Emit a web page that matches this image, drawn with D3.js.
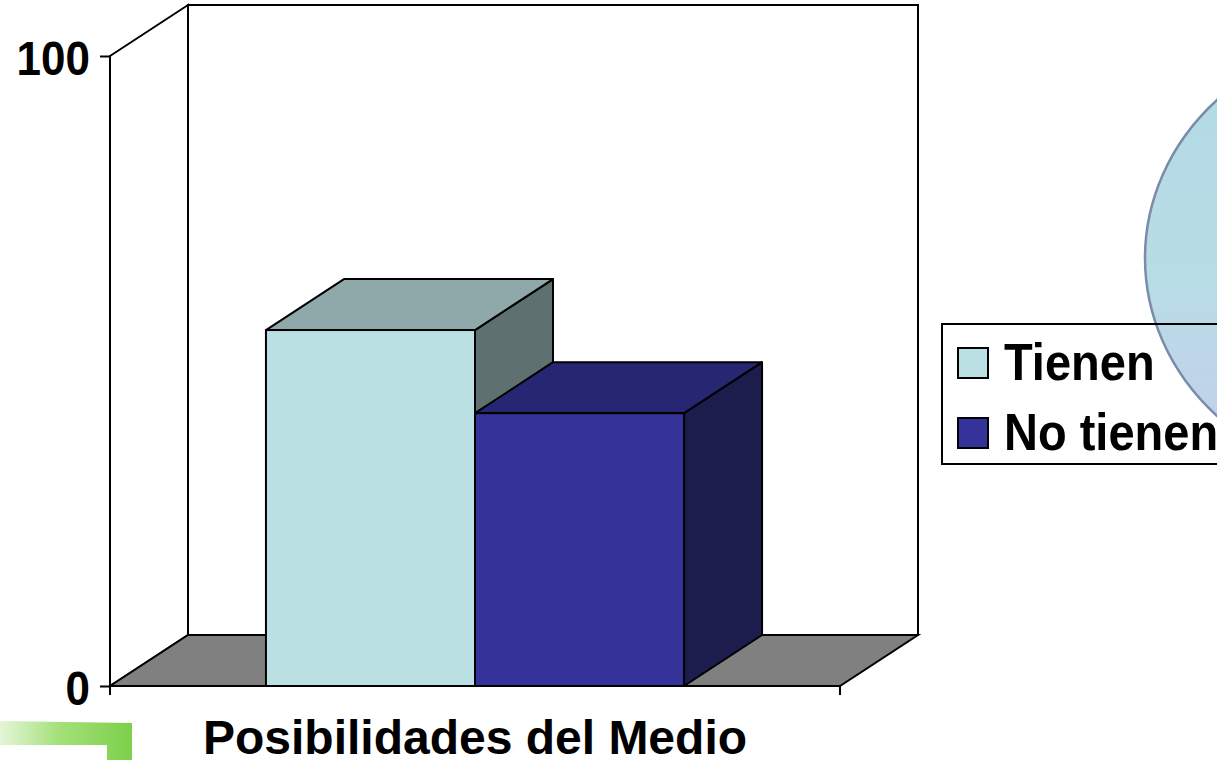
<!DOCTYPE html>
<html>
<head>
<meta charset="utf-8">
<script src="https://cdn.jsdelivr.net/npm/d3@7/dist/d3.min.js"></script>
<style>
html,body{margin:0;padding:0;background:#fff;overflow:hidden;}
svg{display:block;}
text{font-family:"Liberation Sans",Arial,sans-serif;font-weight:bold;fill:#000;}
</style>
</head>
<body>
<svg id="chart" width="1217" height="760"></svg>
<script>
// ---- data ----
const categories = ["Posibilidades del Medio"];
const seriesNames = ["Tienen", "No tienen"];
const seriesValues = [56.5, 43.3];
const yTicks = [0, 100];
const seriesFront = ["#BBE0E3", "#333399"];
const seriesTop = ["#8FA8AA", "#262673"];
const seriesSide = ["#5F7070", "#1C1C4D"];

const svg = d3.select("#chart");
const defs = svg.append("defs");

// depth offsets
const DX = 78, DY = -51;

const y = d3.scaleLinear().domain([0, 100]).range([686, 56]);
const x0 = d3.scaleBand().domain(categories).range([110, 840]).padding(0);
const x1 = d3.scaleBand().domain(seriesNames).range([0, x0.bandwidth()])
  .paddingInner(0).paddingOuter(0.746);

// ---- decorations ----
const cg = defs.append("linearGradient").attr("id","circG").attr("x1",0).attr("y1",0).attr("x2",0).attr("y2",1);
cg.append("stop").attr("offset","0%").attr("stop-color","#B2DAE5");
cg.append("stop").attr("offset","55%").attr("stop-color","#B8DCE6");
cg.append("stop").attr("offset","100%").attr("stop-color","#C6CDEA");
svg.append("ellipse").attr("cx",1395).attr("cy",258).attr("rx",250).attr("ry",225)
  .attr("fill","url(#circG)").attr("stroke","#7A8CAA").attr("stroke-width",2.5);

const gg = defs.append("linearGradient").attr("id","greenG").attr("x1",0).attr("y1",0).attr("x2",1).attr("y2",0);
gg.append("stop").attr("offset","0%").attr("stop-color","#E4F6D8");
gg.append("stop").attr("offset","45%").attr("stop-color","#A4E07A");
gg.append("stop").attr("offset","100%").attr("stop-color","#7CD048");
svg.append("path").attr("d","M0,721 L132,723 L132,760 L107,760 L107,745 L0,745 Z")
  .attr("fill","url(#greenG)");

// ---- walls and floor ----
const yTop = y(100), yBot = y(0);
const xL = x0.range()[0], xR = x0.range()[1];

svg.append("rect").attr("x", xL + DX).attr("y", yTop + DY)
  .attr("width", xR - xL).attr("height", yBot - yTop)
  .attr("fill","#fff").attr("stroke","#000").attr("stroke-width",2);

svg.append("polygon")
  .attr("points", [[xL,yTop],[xL+DX,yTop+DY],[xL+DX,yBot+DY],[xL,yBot]].map(p=>p.join(",")).join(" "))
  .attr("fill","#fff").attr("stroke","#000").attr("stroke-width",2);

svg.append("polygon")
  .attr("points", [[xL,yBot],[xR,yBot],[xR+DX,yBot+DY],[xL+DX,yBot+DY]].map(p=>p.join(",")).join(" "))
  .attr("fill","#808080").attr("stroke","#000").attr("stroke-width",2);

// ---- bars ----
const data = seriesNames.map((s,i)=>({name:s, value:seriesValues[i], i}));
const cat = categories[0];
const bars = svg.append("g");
data.forEach(d=>{
  const xa = x0(cat) + x1(d.name), xb = xa + x1.bandwidth();
  const yt = y(d.value), yb = y(0);
  const pts = a => a.map(p=>p.join(",")).join(" ");
  bars.append("polygon").attr("points", pts([[xb,yt],[xb+DX,yt+DY],[xb+DX,yb+DY],[xb,yb]]))
    .attr("fill", seriesSide[d.i]).attr("stroke","#000").attr("stroke-width",2).attr("stroke-linejoin","round");
  bars.append("polygon").attr("points", pts([[xa,yt],[xb,yt],[xb+DX,yt+DY],[xa+DX,yt+DY]]))
    .attr("fill", seriesTop[d.i]).attr("stroke","#000").attr("stroke-width",2).attr("stroke-linejoin","round");
  bars.append("rect").attr("x",xa).attr("y",yt).attr("width",xb-xa).attr("height",yb-yt)
    .attr("fill", seriesFront[d.i]).attr("stroke","#000").attr("stroke-width",2);
});

// ---- axes ----
const yAxis = d3.axisLeft(y).tickValues(yTicks).tickSize(10).tickPadding(10).tickFormat(d3.format("d"));
const gy = svg.append("g").attr("transform",`translate(${xL},0)`).call(yAxis);
gy.select(".domain").attr("stroke","#000").attr("stroke-width",2).attr("d",`M0,${yTop}V${yBot+9}`);
gy.selectAll(".tick line").attr("stroke","#000").attr("stroke-width",2);
gy.selectAll(".tick text").attr("font-size",44).attr("font-family","Liberation Sans, Arial, sans-serif")
  .attr("font-weight","bold").attr("fill","#000").attr("dy","0.36em")
  .attr("transform","translate(0,1) scale(1,1.08)");

const xAxis = d3.axisBottom(x0).tickSize(0).tickFormat(()=>"");
const gx = svg.append("g").attr("transform",`translate(0,${yBot})`).call(xAxis);
gx.select(".domain").remove();
[xL, xR].forEach(xx=>{
  gx.append("line").attr("x1",xx).attr("x2",xx).attr("y1",0).attr("y2",9).attr("stroke","#000").attr("stroke-width",2);
});
gx.append("text").attr("x", x0(cat)+x0.bandwidth()/2).attr("y", 68)
  .attr("text-anchor","middle").attr("font-size",48).text(cat);

// ---- legend ----
const lg = svg.append("g");
lg.append("rect").attr("x",942).attr("y",324).attr("width",300).attr("height",140)
  .attr("fill","none").attr("stroke","#000").attr("stroke-width",2);
data.forEach((d,k)=>{
  const yy = 348 + k*70;
  lg.append("rect").attr("x",958).attr("y",yy).attr("width",30).attr("height",30)
    .attr("fill",seriesFront[d.i]).attr("stroke","#000").attr("stroke-width",2);
  lg.append("text").attr("transform",`translate(1004,${yy+32}) scale(1,1.09)`)
    .attr("font-size",47).text(d.name);
});
</script>
</body>
</html>
